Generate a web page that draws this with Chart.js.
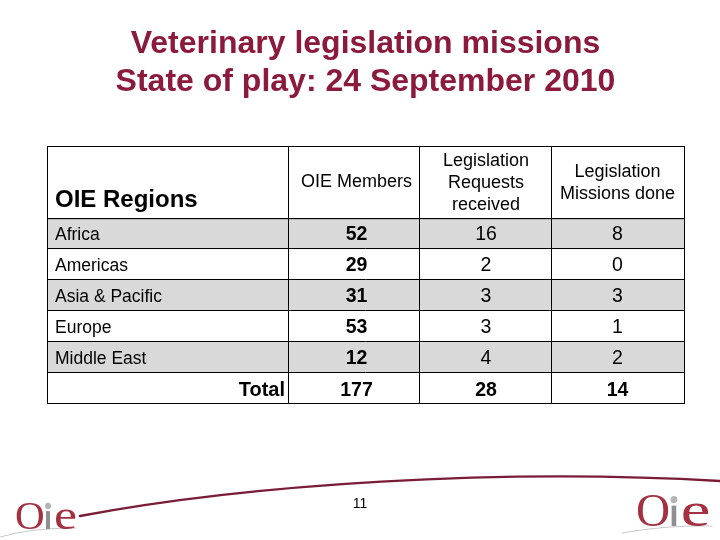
<!DOCTYPE html>
<html>
<head>
<meta charset="utf-8">
<style>
html, body { margin: 0; padding: 0; background: #fff; }
canvas { display: block; }
</style>
<script src="https://cdn.jsdelivr.net/npm/chart.js@4"></script>
</head>
<body>
<canvas id="myChart" width="720" height="540"></canvas>
<script>
const titleLines = ['Veterinary legislation missions', 'State of play: 24 September 2010'];
const regionsHeader = 'OIE Regions';
const columnHeaders = [['OIE Members'], ['Legislation', 'Requests', 'received'], ['Legislation', 'Missions done']];
const rows = ['Africa', 'Americas', 'Asia & Pacific', 'Europe', 'Middle East', 'Total'];
const members = [52, 29, 31, 53, 12, 177];
const requests = [16, 2, 3, 3, 4, 28];
const missions = [8, 0, 3, 1, 2, 14];
const shaded = [true, false, true, false, true, false];
const pageNumber = '11';

// table layout, in px from the left edge of the table
const columnEdges = [0, 241, 372, 504, 637];
const columnCenters = [309.5, 439, 570.5];
const headerTop = 146;
const sans = '"Liberation Sans", Arial, sans-serif';
const serif = '"Liberation Serif", "Times New Roman", serif';

const ctx = document.getElementById('myChart');

function drawLogo(c, x, base, sx, sy, eWide) {
    c.save();
    c.translate(x, base);
    c.scale(sx, sy);
    c.textBaseline = 'alphabetic';
    c.textAlign = 'left';
    c.fillStyle = '#a5303f';
    c.font = '38px ' + serif;
    c.save();
    c.scale(1.08, 1);
    c.fillText('O', 0, 0);
    c.restore();
    c.fillStyle = '#8f8f8f';
    c.fillRect(31, -17, 4, 17);
    c.fillStyle = '#b5b5b5';
    c.beginPath();
    c.arc(33, -22, 3, 0, Math.PI * 2);
    c.fill();
    c.fillStyle = '#a5303f';
    c.font = '40px ' + serif;
    c.translate(39, 0);
    c.scale(eWide, 1);
    c.fillText('e', 0, 0);
    c.restore();
}

const tablePlugin = {
    id: 'tablePlugin',
    afterDraw(chart) {
        const c = chart.ctx;
        const x = chart.scales.x;
        const y = chart.scales.y;
        const area = chart.chartArea;

        // header box above the plot area
        c.save();
        c.strokeStyle = '#000';
        c.lineWidth = 1;
        c.beginPath();
        columnEdges.forEach(e => {
            const px = Math.round(x.getPixelForValue(e)) + 0.5;
            c.moveTo(px, headerTop);
            c.lineTo(px, area.bottom);
        });
        c.moveTo(area.left, headerTop + 0.5);
        c.lineTo(area.right + 1, headerTop + 0.5);
        c.moveTo(area.left, area.top + 0.5);
        c.lineTo(area.right + 1, area.top + 0.5);
        c.moveTo(area.left, area.bottom + 0.5);
        c.lineTo(area.right + 1, area.bottom + 0.5);
        c.stroke();

        // header text
        c.fillStyle = '#000';
        c.textBaseline = 'middle';
        c.textAlign = 'left';
        c.font = 'bold 24px ' + sans;
        c.fillText(regionsHeader, area.left + 8, 200);
        c.font = '18px ' + sans;
        c.textAlign = 'center';
        columnHeaders.forEach((lines, i) => {
            const cx = x.getPixelForValue(columnCenters[i]);
            const mid = lines.length === 1 ? 182 : 183;
            lines.forEach((line, j) => {
                c.fillText(line, cx, mid + (j - (lines.length - 1) / 2) * 22);
            });
        });

        // body cells
        const columns = [members, requests, missions];
        rows.forEach((row, r) => {
            const cy = y.getPixelForValue(r);
            const isTotal = r === rows.length - 1;
            if (isTotal) {
                c.textAlign = 'right';
                c.font = 'bold 20px ' + sans;
                c.fillText(row, x.getPixelForValue(columnEdges[1]) - 3, cy + 2.5);
            } else {
                c.textAlign = 'left';
                c.font = '17.5px ' + sans;
                c.fillText(row, area.left + 8, cy + 2);
            }
            c.textAlign = 'center';
            columns.forEach((col, i) => {
                c.font = (i === 0 || isTotal ? 'bold ' : '') + '19.5px ' + sans;
                c.fillText(String(col[r]), x.getPixelForValue(columnCenters[i]), cy + (isTotal ? 3 : 1.5));
            });
        });

        // footer
        c.font = '14px ' + sans;
        c.fillText(pageNumber, 360, 504);

        c.strokeStyle = '#7a1c38';
        c.lineWidth = 2.4;
        c.lineCap = 'round';
        c.beginPath();
        c.moveTo(80, 516);
        c.bezierCurveTo(250, 484, 500, 468, 720, 481);
        c.stroke();

        c.strokeStyle = '#c8c8c8';
        c.lineWidth = 1;
        c.beginPath();
        c.moveTo(0, 537);
        c.quadraticCurveTo(30, 528, 76, 528);
        c.moveTo(622, 533);
        c.quadraticCurveTo(665, 525, 712, 526);
        c.stroke();

        drawLogo(c, 15, 529, 1, 1.05, 1.3);
        drawLogo(c, 636, 526, 1.15, 1.2, 1.45);
        c.restore();
    }
};

window.onload = () => {
    new Chart(ctx, {
        type: 'bar',
        data: {
            labels: rows,
            datasets: [{
                label: 'band',
                data: shaded.map(s => s ? [columnEdges[0], columnEdges[4]] : null),
                backgroundColor: '#d9d9d9',
                barPercentage: 1,
                categoryPercentage: 1
            }]
        },
        options: {
            indexAxis: 'y',
            responsive: false,
            animation: false,
            layout: { padding: { left: 47, right: 36, bottom: 129, top: 0 } },
            plugins: {
                legend: { display: false },
                tooltip: { enabled: false },
                title: {
                    display: true,
                    text: titleLines,
                    color: '#8b1a3c',
                    font: { family: sans, size: 32, weight: 'bold', lineHeight: 1.19 },
                    padding: { top: 25, bottom: 117 }
                }
            },
            scales: {
                x: {
                    type: 'linear',
                    min: columnEdges[0],
                    max: columnEdges[4],
                    afterBuildTicks: axis => { axis.ticks = columnEdges.map(v => ({ value: v })); },
                    ticks: { display: false },
                    border: { display: false },
                    grid: { display: false }
                },
                y: {
                    ticks: { display: false },
                    border: { display: false },
                    grid: { color: '#000', lineWidth: 1, offset: true, drawTicks: false, z: 1 }
                }
            }
        },
        plugins: [tablePlugin]
    });
};
</script>
</body>
</html>
